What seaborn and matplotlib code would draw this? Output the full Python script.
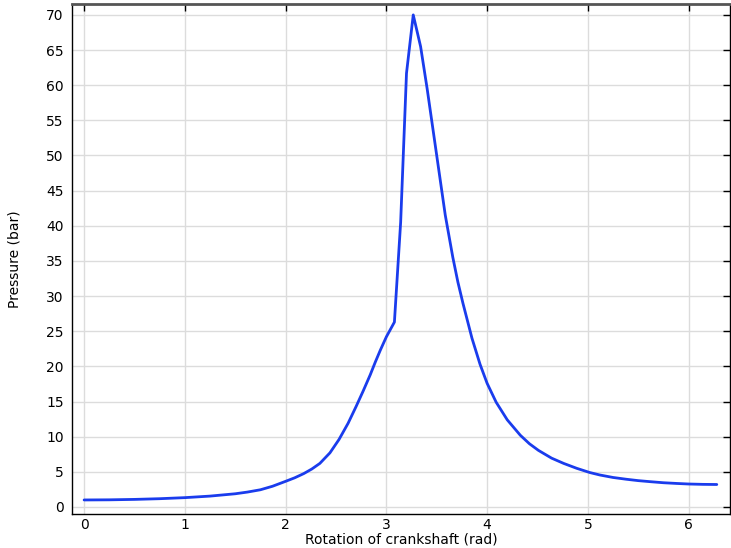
import matplotlib
matplotlib.use("Agg")
import matplotlib.pyplot as plt
import seaborn as sns
import pandas as pd

# crank angle (rad) and cylinder pressure (bar)
angle = [0.0, 0.25, 0.5, 0.75, 1.0, 1.25, 1.5, 1.62, 1.75, 1.87, 2.0, 2.09, 2.18,
         2.26, 2.34, 2.44, 2.53, 2.62, 2.70, 2.77, 2.84, 2.89, 2.94, 3.0, 3.08,
         3.142, 3.20, 3.267, 3.34, 3.405, 3.44, 3.49, 3.53, 3.585, 3.66, 3.71, 3.76,
         3.85, 3.93, 4.0, 4.09, 4.2, 4.33, 4.42, 4.51, 4.64, 4.76, 4.89, 5.02,
         5.12, 5.25, 5.38, 5.5, 5.62, 5.75, 5.88, 6.0, 6.14, 6.28]
pressure = [1.0, 1.02, 1.08, 1.18, 1.33, 1.55, 1.88, 2.12, 2.45, 2.95, 3.65, 4.15, 4.75,
            5.4, 6.2, 7.7, 9.6, 11.9, 14.3, 16.5, 18.8, 20.6, 22.3, 24.2, 26.3,
            40.5, 61.7, 70.0, 65.5, 59.5, 56.0, 51.0, 47.0, 41.5, 35.5, 32.0, 29.0,
            24.0, 20.3, 17.6, 14.9, 12.4, 10.2, 9.0, 8.05, 6.95, 6.2, 5.5, 4.9,
            4.55, 4.2, 3.95, 3.75, 3.6, 3.45, 3.35, 3.27, 3.22, 3.2]

df = pd.DataFrame({"angle": angle, "pressure": pressure})

sns.set_style("whitegrid", {"grid.color": "#dcdcdc", "axes.edgecolor": "black"})
plt.rcParams["font.family"] = ["DejaVu Sans"]

fig = plt.figure(figsize=(7.31, 5.48), dpi=100)
ax = fig.add_axes([0.0985, 0.062, 0.9, 0.9307])

sns.lineplot(data=df, x="angle", y="pressure", color="#1a3ced", linewidth=2, ax=ax,
             estimator=None, sort=False)

ax.set_xlim(-0.12, 6.41)
ax.set_ylim(-1.0, 71.55)
ax.set_xticks(range(0, 7))
ax.set_yticks(range(0, 71, 5))
ax.grid(True, color="#dcdcdc", linewidth=1)

ax.tick_params(direction="in", length=5, width=1, top=True, right=True,
               labelsize=10, colors="black", labelcolor="black")
ax.tick_params(axis="x", pad=3)
ax.tick_params(axis="y", pad=6)
for s in ax.spines.values():
    s.set_color("black")
    s.set_linewidth(1)
ax.spines["top"].set_color("#555555")
ax.spines["top"].set_linewidth(2)

ax.set_xlabel("Rotation of crankshaft (rad)", fontsize=10, labelpad=0, color="black")
ax.set_ylabel("Pressure (bar)", fontsize=10, labelpad=18, color="black")

fig.savefig("out.png", dpi=100)
